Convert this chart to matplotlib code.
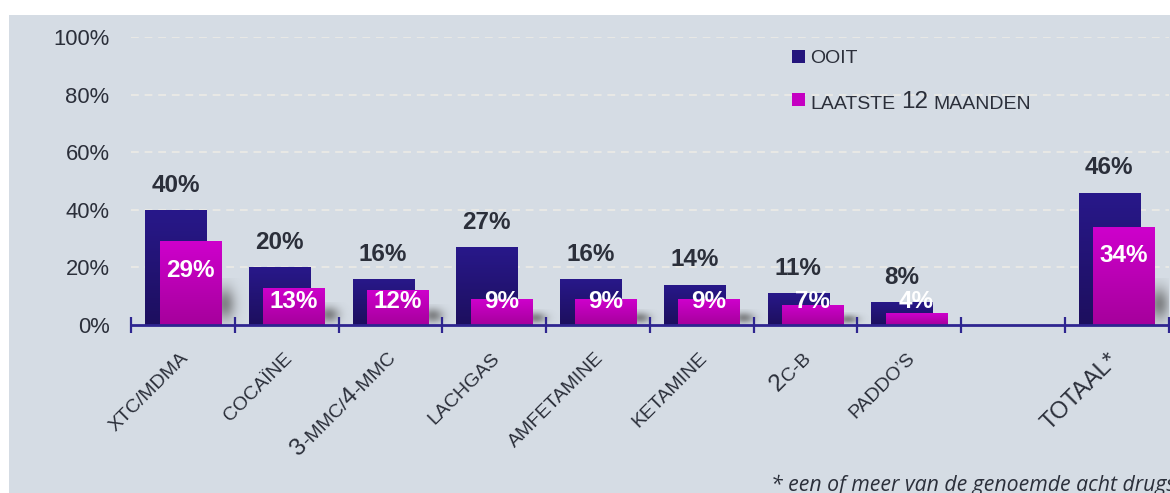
import matplotlib
matplotlib.use('Agg')
import re
import matplotlib.pyplot as plt
import numpy as np
from matplotlib.colors import LinearSegmentedColormap
from matplotlib.patches import Rectangle
from matplotlib.font_manager import FontProperties
from matplotlib.transforms import ScaledTranslation

plt.rcParams['font.family'] = ['Liberation Sans', 'DejaVu Sans']

# drug use figures, percent
categories = ['XTC/MDMA', 'COCAÏNE', '3-MMC/4-MMC', 'LACHGAS', 'AMFETAMINE',
              'KETAMINE', '2C-B', "PADDO\u2019S", 'TOTAAL*']
ooit = [40, 20, 16, 27, 16, 14, 11, 8, 46]
laatste_12m = [29, 13, 12, 9, 9, 9, 7, 4, 34]
yticks = [0, 20, 40, 60, 80, 100]

BG = '#D5DCE4'
TXT = '#2B2F3A'
AXIS = '#2E2590'
dark_cmap = LinearSegmentedColormap.from_list('dark', ['#1D0F5E', '#28188A'])
pink_cmap = LinearSegmentedColormap.from_list('pink', ['#A6009C', '#CE00CC'])

fig = plt.figure(figsize=(11.7, 4.93), dpi=100, facecolor='white')
fig.patches.append(Rectangle((9 / 1170, 0), 1, 1 - 15 / 493, transform=fig.transFigure,
                             facecolor=BG, edgecolor='none', zorder=-5))
ax = fig.add_axes([131 / 1170, 1 - 325 / 493, (1168.5 - 131) / 1170, 288 / 493])
ax.set_facecolor('none')
renderer = fig.canvas.get_renderer()

# 8 drugs, an empty slot, then the total
slots = np.array(list(range(len(categories) - 1)) + [len(categories)])
centers = slots + 0.5
width = 0.59
shift = 0.07


def gradient_bar(x0, h, cmap, z):
    bar = ax.bar(x0, h, width=width, align='edge', color='none', edgecolor='none', zorder=z)[0]
    grad = np.linspace(0, 1, 64).reshape(-1, 1)
    im = ax.imshow(grad, cmap=cmap, aspect='auto', origin='lower',
                   extent=(x0, x0 + width, 0, h), zorder=z, interpolation='bicubic')
    im.set_clip_path(bar)


def shadow(xr, h):
    hh = min(h * 0.6, 16)
    if hh < 3:
        return
    xs = np.linspace(-0.15, 0.35, 60)
    ys = np.linspace(0, 1, 60)
    X, Y = np.meshgrid(xs, ys)
    a = np.exp(-((X - 0.04) / 0.1) ** 2) * np.exp(-((Y - 0.45) / 0.35) ** 2) * 0.65
    rgba = np.zeros((60, 60, 4))
    rgba[..., :3] = 0.33
    rgba[..., 3] = a
    ax.imshow(rgba, aspect='auto', origin='lower', extent=(xr - 0.15, xr + 0.35, 0, hh),
              zorder=1, interpolation='bicubic')


def text_width_pt(s, size):
    w, _, _ = renderer.get_text_width_height_descent(s, FontProperties(size=size), ismath=False)
    return w * 72 / fig.dpi


def slanted_label(xc, label, small, big, dx=6, dy=-34, angle=45):
    # small-caps look: letters small, digits large; laid out along the slant,
    # ending at (dx, dy) pixels from the category centre on the axis
    runs = [(r, big if r[0].isdigit() else small) for r in re.findall(r'\d+|\D+', label)]
    lens = [text_width_pt(r, s) for r, s in runs]
    ca, sa = np.cos(np.radians(angle)), np.sin(np.radians(angle))
    end = np.array([dx, dy]) * 72 / fig.dpi
    pos = end - sum(lens) * np.array([ca, sa])
    for (r, s), L in zip(runs, lens):
        tr = ax.transData + ScaledTranslation(pos[0] / 72, pos[1] / 72, fig.dpi_scale_trans)
        ax.text(xc, 0, r, transform=tr, rotation=angle, rotation_mode='anchor',
                ha='left', va='baseline', fontsize=s, color=TXT, clip_on=False)
        pos = pos + L * np.array([ca, sa])


for c, v1, v2 in zip(centers, ooit, laatste_12m):
    x_dark = c - shift - width / 2
    x_pink = c + shift - width / 2
    shadow(x_pink + width, v2)
    gradient_bar(x_dark, v1, dark_cmap, 2)
    gradient_bar(x_pink, v2, pink_cmap, 3)
    ax.text(c - shift, v1 + 8.6, f'{v1}%', ha='center', va='center', fontsize=17.5,
            fontweight='bold', color=TXT, zorder=5)
    ax.text(c + shift, max(v2 - 10, 8), f'{v2}%', ha='center', va='center', fontsize=17.5,
            fontweight='bold', color='white', zorder=5)

for c, lab in zip(centers, categories):
    if lab.startswith('TOTAAL'):
        slanted_label(c, lab, 17, 17, dx=3, dy=-36)
    else:
        slanted_label(c, lab, 14, 17.5)

ax.set_xlim(0, 10)
ax.set_ylim(0, 100)
ax.set_xticks(range(11))
ax.set_xticklabels([])
ax.tick_params(axis='x', direction='inout', length=11, width=1.6, color=AXIS)
ax.set_yticks(yticks)
ax.set_yticklabels([f'{t}%' for t in yticks], fontsize=15.8, color=TXT)
ax.tick_params(axis='y', length=0, pad=15.5)
for s in ['left', 'right', 'top']:
    ax.spines[s].set_visible(False)
ax.spines['bottom'].set_color(AXIS)
ax.spines['bottom'].set_linewidth(2)
ax.spines['bottom'].set_zorder(6)
for t in yticks[1:]:
    ax.axhline(t, color='#E9E9E6', lw=1.4, ls=(0, (4, 3)), zorder=0.5)

# legend drawn by hand: mixed-size "12" in the second entry
lx = 6.37
ax.add_patch(Rectangle((lx, 91.0), 0.125, 4.5, facecolor='#24157C', edgecolor='none', clip_on=False))
ax.add_patch(Rectangle((lx, 76.0), 0.125, 4.5, facecolor='#C500C2', edgecolor='none', clip_on=False))
ax.text(lx + 0.175, 92.4, 'OOIT', fontsize=14, color=TXT, va='center')
t1 = ax.text(lx + 0.175, 73.6, 'LAATSTE', fontsize=14, color=TXT, va='bottom')
t2 = ax.annotate('12', xy=(1, 0), xycoords=t1, xytext=(4, 0), textcoords='offset points',
                 fontsize=17.5, color=TXT, va='bottom')
ax.annotate('MAANDEN', xy=(1, 0), xycoords=t2, xytext=(4, 0), textcoords='offset points',
            fontsize=14, color=TXT, va='bottom')

fig.text(771 / 1170, 1 - 491 / 493, '* een of meer van de genoemde acht drugs',
         fontsize=15.3, style='italic', family=['Open Sans', 'DejaVu Sans'], color=TXT,
         va='baseline', ha='left')

fig.savefig('out.png', dpi=100, facecolor='white')
